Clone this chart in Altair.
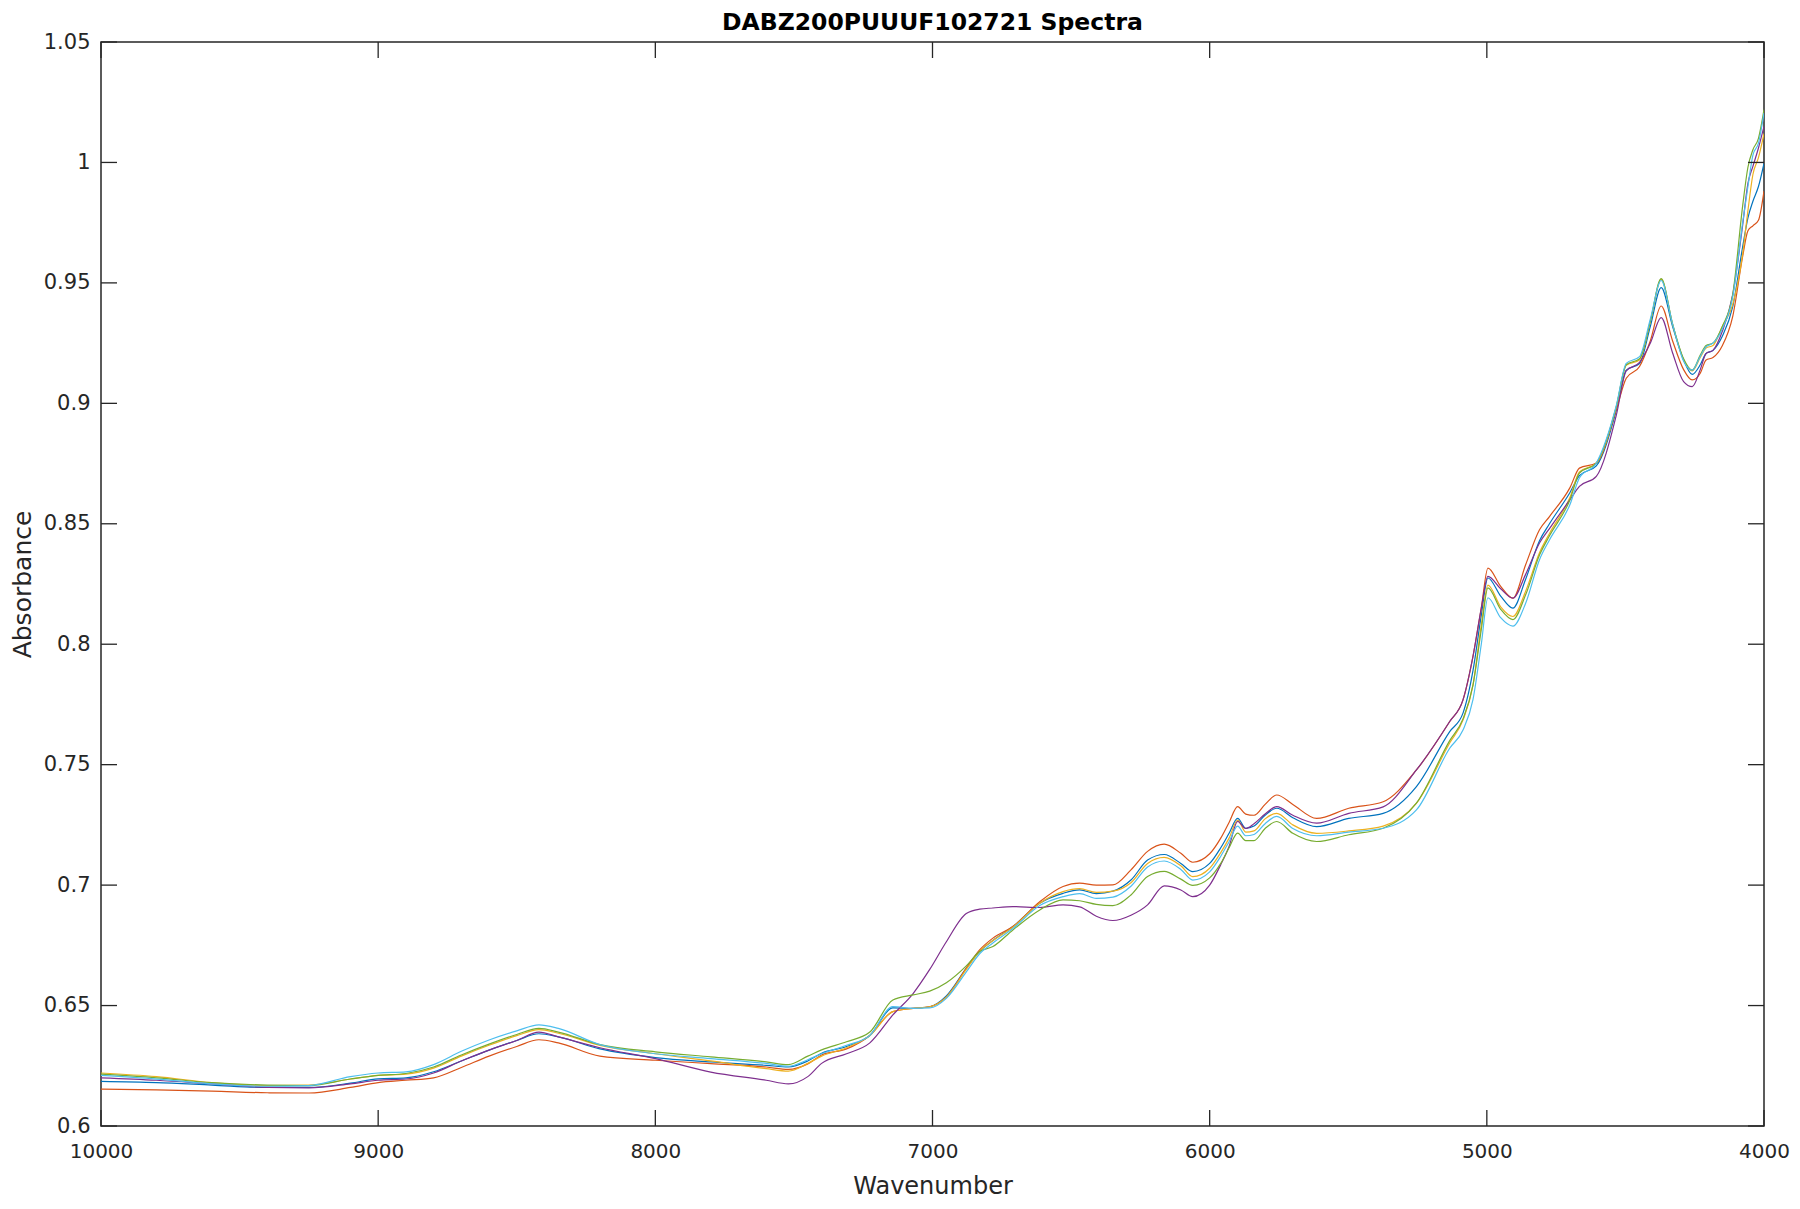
import altair as alt
import pandas as pd

wavenumber = [10000, 9800, 9600, 9400, 9250, 9100, 9000, 8900, 8800, 8700, 8600, 8500, 8420, 8350, 8200,
              8000, 7800, 7600, 7520, 7450, 7400, 7310, 7226, 7143, 7070, 7010, 6950, 6878, 6830, 6782,
              6710, 6613, 6529, 6469, 6409, 6349, 6284, 6224, 6164, 6104, 6061, 6000, 5960, 5930, 5899,
              5870, 5840, 5800, 5758, 5700, 5614, 5498, 5374, 5254, 5134, 5086, 5050, 5020, 4996, 4950,
              4906, 4860, 4810, 4774, 4700, 4666, 4605, 4533, 4497, 4449, 4410, 4371, 4330, 4290, 4259,
              4230, 4209, 4184, 4150, 4113, 4077, 4058, 4040, 4020, 4000]

s1_blue = [0.6185, 0.618, 0.617, 0.616, 0.616, 0.6178, 0.6196, 0.620, 0.6225, 0.627, 0.6315, 0.6355, 0.6383, 0.637, 0.632,
           0.6284, 0.6266, 0.6252, 0.6245, 0.627, 0.6302, 0.633, 0.6376, 0.649, 0.6488, 0.6495, 0.654, 0.6655, 0.6725, 0.677,
           0.6828, 0.6925, 0.6966, 0.698, 0.6965, 0.6975, 0.7021, 0.7104, 0.7127, 0.709, 0.7056, 0.709, 0.7155, 0.7215, 0.7277,
           0.7236, 0.7245, 0.729, 0.7319, 0.728, 0.7243, 0.7277, 0.7298, 0.7409, 0.7637, 0.7714, 0.789, 0.812, 0.8275, 0.820,
           0.815, 0.827, 0.843, 0.850, 0.863, 0.870, 0.874, 0.897, 0.9138, 0.9165, 0.932, 0.948, 0.932, 0.918, 0.912,
           0.916, 0.9207, 0.922, 0.928, 0.940, 0.965, 0.977, 0.9839, 0.990, 0.9996]

s2_orange = [0.6153, 0.615, 0.6145, 0.6138, 0.6137, 0.616, 0.618, 0.619, 0.620, 0.6243, 0.629, 0.633, 0.6358, 0.6345, 0.629,
             0.6273, 0.6259, 0.6245, 0.6235, 0.6258, 0.6295, 0.632, 0.6376, 0.6475, 0.6488, 0.6495, 0.6535, 0.6655, 0.6731, 0.678,
             0.6828, 0.6931, 0.6994, 0.7008, 0.700, 0.7001, 0.7063, 0.714, 0.717, 0.7132, 0.7095, 0.713, 0.7195, 0.726, 0.7326,
             0.7295, 0.729, 0.7335, 0.7374, 0.7335, 0.7277, 0.7319, 0.7346, 0.7478, 0.7679, 0.7769, 0.795, 0.815, 0.8316, 0.824,
             0.8191, 0.833, 0.8475, 0.853, 0.865, 0.8731, 0.8752, 0.8974, 0.9104, 0.9153, 0.926, 0.9404, 0.926, 0.914, 0.9097,
             0.9125, 0.918, 0.919, 0.924, 0.936, 0.961, 0.9716, 0.9737, 0.976, 0.9881]

s3_yellow = [0.622, 0.6205, 0.618, 0.6168, 0.617, 0.6195, 0.621, 0.6215, 0.624, 0.629, 0.6335, 0.6375, 0.640, 0.6385, 0.6335,
             0.630, 0.627, 0.6238, 0.6228, 0.626, 0.629, 0.6325, 0.6376, 0.6475, 0.6488, 0.6495, 0.6535, 0.665, 0.6725, 0.677,
             0.6825, 0.6925, 0.6973, 0.6985, 0.697, 0.6975, 0.701, 0.709, 0.7115, 0.708, 0.7035, 0.707, 0.7135, 0.7195, 0.727,
             0.722, 0.7225, 0.7275, 0.7298, 0.725, 0.7215, 0.7225, 0.7245, 0.734, 0.759, 0.7685, 0.783, 0.808, 0.8245, 0.8155,
             0.8115, 0.822, 0.838, 0.846, 0.861, 0.8715, 0.8752, 0.8985, 0.9158, 0.918, 0.934, 0.9515, 0.933, 0.918, 0.9135,
             0.919, 0.923, 0.924, 0.932, 0.941, 0.962, 0.980, 0.995, 1.002, 1.012]

s4_purple = [0.620, 0.619, 0.6175, 0.616, 0.6158, 0.6175, 0.619, 0.6195, 0.622, 0.627, 0.6315, 0.6355, 0.639, 0.637, 0.6325,
             0.628, 0.6224, 0.619, 0.6175, 0.6205, 0.626, 0.630, 0.6345, 0.6461, 0.655, 0.665, 0.6765, 0.6882, 0.690, 0.6905,
             0.6911, 0.6907, 0.6918, 0.691, 0.6871, 0.6853, 0.6875, 0.6918, 0.6997, 0.698, 0.6952, 0.700, 0.7085, 0.716, 0.7265,
             0.7235, 0.7255, 0.7295, 0.7326, 0.729, 0.7257, 0.7298, 0.7325, 0.7478, 0.7679, 0.7769, 0.7949, 0.815, 0.8282, 0.823,
             0.8191, 0.829, 0.842, 0.848, 0.860, 0.8655, 0.8697, 0.895, 0.9135, 0.917, 0.925, 0.9356, 0.921, 0.909, 0.9069,
             0.914, 0.9207, 0.922, 0.930, 0.945, 0.974, 0.9913, 0.9984, 1.006, 1.015]

s5_green = [0.6215, 0.620, 0.618, 0.617, 0.6168, 0.6195, 0.621, 0.6218, 0.6245, 0.6295, 0.634, 0.638, 0.6405, 0.639, 0.6338,
            0.6308, 0.6287, 0.6266, 0.6255, 0.629, 0.6316, 0.635, 0.639, 0.6523, 0.6544, 0.656, 0.6595, 0.6665, 0.6724, 0.6745,
            0.6814, 0.6897, 0.6939, 0.6935, 0.692, 0.6915, 0.6959, 0.7036, 0.7057, 0.7025, 0.6999, 0.703, 0.709, 0.7155, 0.7216,
            0.7185, 0.7185, 0.7235, 0.7264, 0.7215, 0.7181, 0.7209, 0.7236, 0.734, 0.760, 0.769, 0.783, 0.806, 0.8234, 0.8145,
            0.8102, 0.8205, 0.837, 0.845, 0.860, 0.871, 0.8752, 0.8985, 0.916, 0.9185, 0.934, 0.9518, 0.933, 0.9185, 0.9138,
            0.920, 0.924, 0.925, 0.932, 0.945, 0.982, 0.998, 1.0053, 1.010, 1.0219]

s6_cyan = [0.621, 0.6195, 0.6175, 0.6165, 0.6168, 0.6205, 0.622, 0.6225, 0.6255, 0.631, 0.6357, 0.6395, 0.642, 0.6405, 0.6338,
           0.630, 0.628, 0.626, 0.6248, 0.6275, 0.630, 0.6335, 0.6376, 0.6496, 0.6488, 0.649, 0.653, 0.664, 0.6715, 0.676,
           0.682, 0.6915, 0.6952, 0.6965, 0.6945, 0.695, 0.6995, 0.7075, 0.710, 0.7065, 0.7021, 0.7055, 0.712, 0.718, 0.7245,
           0.7205, 0.721, 0.7255, 0.7285, 0.7235, 0.7205, 0.722, 0.7236, 0.7312, 0.7568, 0.7644, 0.777, 0.800, 0.8193, 0.811,
           0.8075, 0.817, 0.8351, 0.8433, 0.858, 0.869, 0.8752, 0.899, 0.9166, 0.9194, 0.935, 0.951, 0.933, 0.9175, 0.9138,
           0.9195, 0.9235, 0.925, 0.931, 0.944, 0.975, 0.990, 1.003, 1.008, 1.0205]

series_names = ["Spectrum 1", "Spectrum 2", "Spectrum 3", "Spectrum 4", "Spectrum 5", "Spectrum 6"]
series_values = [s1_blue, s2_orange, s3_yellow, s4_purple, s5_green, s6_cyan]
series_colors = ["#0072BD", "#D95319", "#EDB120", "#7E2F8E", "#77AC30", "#4DBEEE"]

x_ticks = [10000, 9000, 8000, 7000, 6000, 5000, 4000]
y_ticks = [0.6, 0.65, 0.7, 0.75, 0.8, 0.85, 0.9, 0.95, 1.0, 1.05]

W, H = 1663, 1084
TICK = 16
AX = "#262626"
FONT = "DejaVu Sans"

rows = []
for i, (name, vals) in enumerate(zip(series_names, series_values)):
    for w, v in zip(wavenumber, vals):
        rows.append({"Wavenumber": w, "Absorbance": v, "series": name, "idx": i})
df = pd.DataFrame(rows)

xs = alt.Scale(domain=[4000, 10000], reverse=True, nice=False, zero=False)
ys = alt.Scale(domain=[0.6, 1.05], nice=False, zero=False)

lines = alt.Chart(df).mark_line(strokeWidth=1.2, clip=True, interpolate="monotone").encode(
    x=alt.X("Wavenumber:Q", scale=xs,
            axis=alt.Axis(values=x_ticks, format="d", ticks=False, domain=False, grid=False,
                          labelFlush=False, labelFont=FONT,
                          labelFontSize=20, labelPadding=15, labelColor=AX,
                          title="Wavenumber", titleFont=FONT, titleFontSize=24, titleFontWeight="normal",
                          titleColor=AX, titlePadding=13)),
    y=alt.Y("Absorbance:Q", scale=ys,
            axis=alt.Axis(values=y_ticks, format="~g", ticks=False, domain=False, grid=False,
                          labelFont=FONT, labelFontSize=21, labelPadding=11, labelColor=AX,
                          title="Absorbance", titleFont=FONT, titleFontSize=25, titleFontWeight="normal",
                          titleColor=AX, titlePadding=8)),
    color=alt.Color("series:N", scale=alt.Scale(domain=series_names, range=series_colors), legend=None),
    order=alt.Order("idx:Q"),
)

xt = pd.DataFrame({"t": x_ticks})
yt = pd.DataFrame({"t": y_ticks})

bottom_ticks = alt.Chart(xt).mark_rule(color=AX, strokeWidth=1.3).encode(
    x=alt.X("t:Q", scale=xs), y=alt.value(H), y2=alt.value(H - TICK))
top_ticks = alt.Chart(xt).mark_rule(color=AX, strokeWidth=1.3).encode(
    x=alt.X("t:Q", scale=xs), y=alt.value(0), y2=alt.value(TICK))
left_ticks = alt.Chart(yt).mark_rule(color=AX, strokeWidth=1.3).encode(
    y=alt.Y("t:Q", scale=ys), x=alt.value(0), x2=alt.value(TICK))
right_ticks = alt.Chart(yt).mark_rule(color=AX, strokeWidth=1.3).encode(
    y=alt.Y("t:Q", scale=ys), x=alt.value(W), x2=alt.value(W - TICK))

chart = alt.layer(lines, bottom_ticks, top_ticks, left_ticks, right_ticks).properties(
    width=W, height=H,
    title=alt.TitleParams("DABZ200PUUUF102721 Spectra", font=FONT, fontSize=23.5, fontWeight="bold",
                          color="#000000", anchor="middle", baseline="alphabetic", offset=2, dy=24),
    autosize=alt.AutoSizeParams(type="none"),
    padding={"left": 93, "top": 34, "right": 27, "bottom": 72},
).configure(
    font=FONT,
).configure_view(
    stroke=AX, strokeWidth=1.5,
)

chart.save("out.html", embed_options={"renderer": "svg", "actions": False})
